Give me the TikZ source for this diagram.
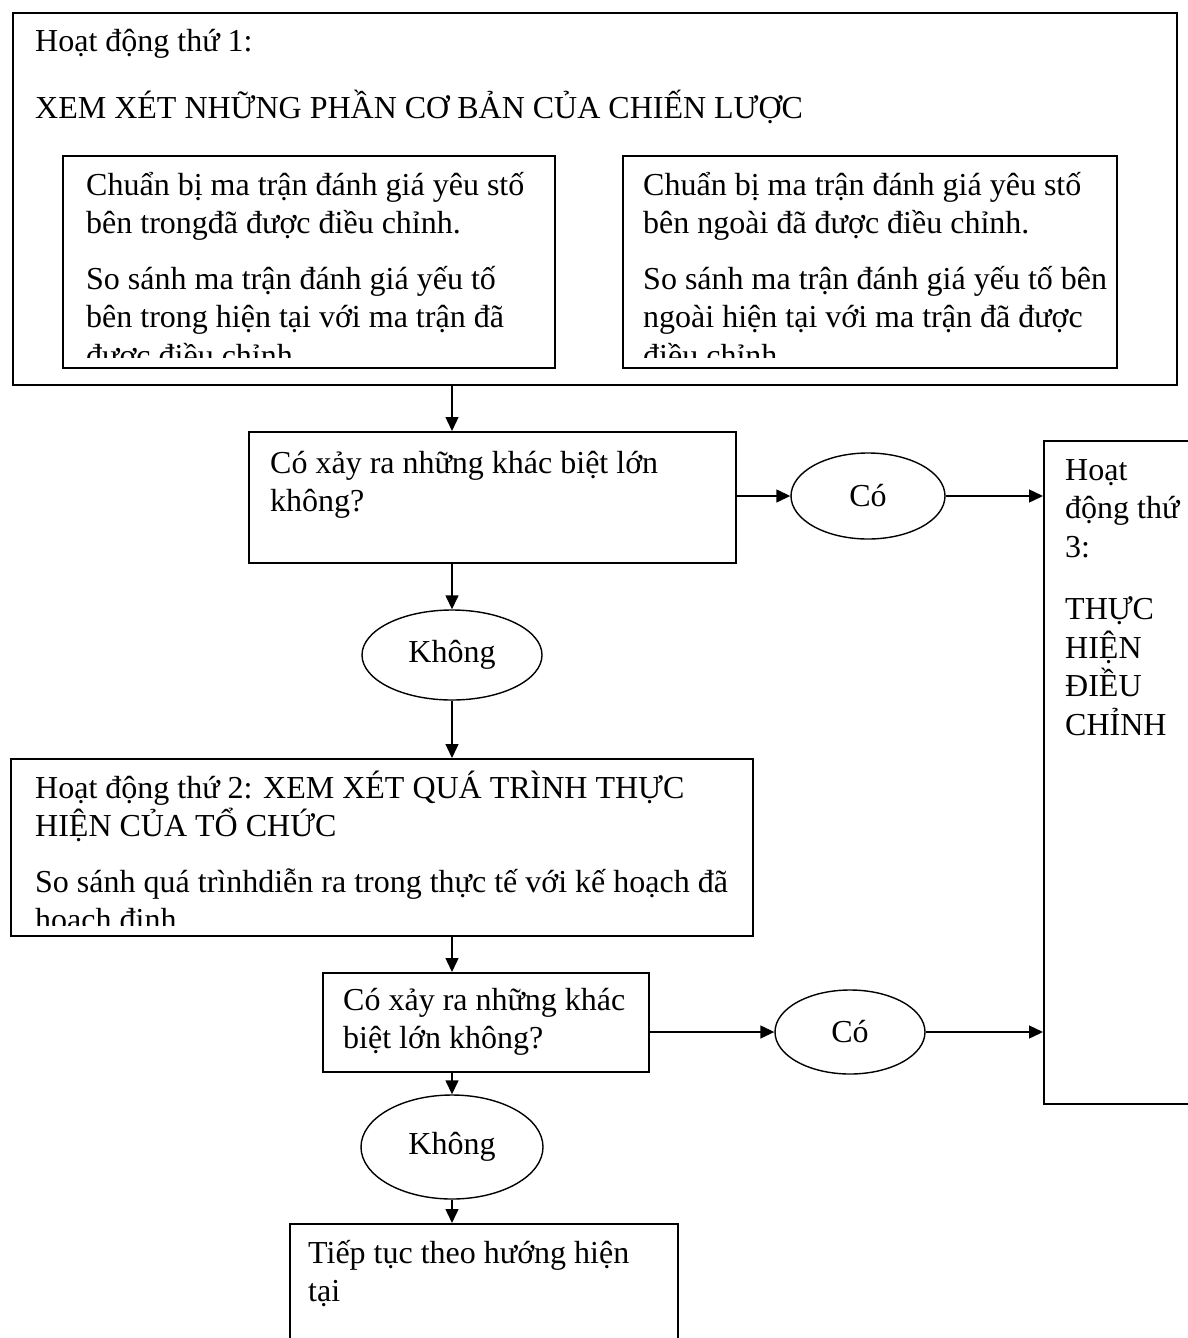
\documentclass[tikz,border=0pt]{standalone}
\usepackage{fontspec}
\setmainfont{Liberation Serif}
\usetikzlibrary{arrows.meta,shapes.geometric}
\newcommand\lines[1]{\parbox[t]{900pt}{\raggedright #1}}
\begin{document}
\begin{tikzpicture}[x=1pt,y=-1pt,
  box/.style={draw, line width=1.6pt, rectangle, inner sep=0, anchor=north west},
  oval/.style={draw, line width=1.4pt, ellipse, inner sep=0, font=\fontsize{32}{38.5}\selectfont},
  txt/.style={anchor=base west, inner sep=0, font=\fontsize{32}{38.5}\selectfont},
  arr/.style={line width=1.4pt, -{Triangle[length=14pt,width=13pt]}}]
\clip (0,0) rectangle (1188,1338);

% Activity 1 with its two inner frames
\node[box, minimum width=1164pt, minimum height=372pt] (box1) at (12,12) {};
\node[txt] (t1) at (35,52) {\lines{Hoạt động thứ 1:\\[28pt]XEM XÉT NHỮNG PHẦN CƠ BẢN CỦA CHIẾN LƯỢC}};

\node[box, minimum width=492pt, minimum height=212pt] (inL) at (62,155) {};
\begin{scope}
  \clip (62,155) rectangle (554,357);
  \node[txt] (tL) at (86,195) {\lines{Chuẩn bị ma trận đánh giá yêu stố\\bên trongđã được điều chỉnh.\\[17pt]So sánh ma trận đánh giá yếu tố\\bên trong hiện tại với ma trận đã\\được điều chỉnh.}};
\end{scope}

\node[box, minimum width=494pt, minimum height=212pt] (inR) at (622,155) {};
\begin{scope}
  \clip (622,155) rectangle (1116,357);
  \node[txt] (tR) at (643,195) {\lines{Chuẩn bị ma trận đánh giá yêu stố\\bên ngoài đã được điều chỉnh.\\[17pt]So sánh ma trận đánh giá yếu tố bên\\ngoài hiện tại với ma trận đã được\\điều chỉnh.}};
\end{scope}

% First decision
\node[box, minimum width=487pt, minimum height=131pt] (box2) at (248,431) {};
\node[txt] (t2) at (270,473) {\lines{Có xảy ra những khác biệt lớn\\không?}};
\node[oval, minimum width=154pt, minimum height=86pt] (co1) at (868,496) {Có};
\node[oval, minimum width=180pt, minimum height=90pt] (kh1) at (452,655) {Không};

% Activity 3
\node[box, minimum width=160pt, minimum height=663pt] (box3) at (1043,440) {};
\node[txt] (t3) at (1065,480) {\lines{Hoạt\\động thứ\\3:\\[24pt]THỰC\\HIỆN\\ĐIỀU\\CHỈNH}};

% Activity 2
\node[box, minimum width=742pt, minimum height=177pt] (box4) at (10,758) {};
\begin{scope}
  \clip (10,758) rectangle (752,925);
  \node[txt] (t4) at (35,798) {\lines{Hoạt động thứ 2: XEM XÉT QUÁ TRÌNH THỰC\\HIỆN CỦA TỔ CHỨC\\[17pt]So sánh quá trìnhdiễn ra trong thực tế với kế hoạch đã\\hoạch định}};
\end{scope}

% Second decision
\node[box, minimum width=326pt, minimum height=99pt] (box5) at (322,972) {};
\node[txt] (t5) at (343,1010) {\lines{Có xảy ra những khác\\biệt lớn không?}};
\node[oval, minimum width=150pt, minimum height=84pt] (co2) at (850,1032) {Có};
\node[oval, minimum width=182pt, minimum height=104pt] (kh2) at (452,1147) {Không};

% Outcome
\node[box, minimum width=388pt, minimum height=150pt] (box6) at (289,1223) {};
\node[txt] (t6) at (308,1263) {\lines{Tiếp tục theo hướng hiện\\tại}};

% Connectors
\draw[arr] (kh1 |- box1.south) -- (kh1 |- box2.north);
\draw[arr] (kh1 |- box2.south) -- (kh1.north);
\draw[arr] (kh1.south) -- (kh1 |- box4.north);
\draw[arr] (kh1 |- box4.south) -- (kh1 |- box5.north);
\draw[arr] (kh1 |- box5.south) -- (kh2.north);
\draw[arr] (kh2.south) -- (kh2 |- box6.north);
\draw[arr] (box2.east |- co1) -- (co1.west);
\draw[arr] (co1.east) -- (co1 -| box3.west);
\draw[arr] (box5.east |- co2) -- (co2.west);
\draw[arr] (co2.east) -- (co2 -| box3.west);
\end{tikzpicture}
\end{document}
